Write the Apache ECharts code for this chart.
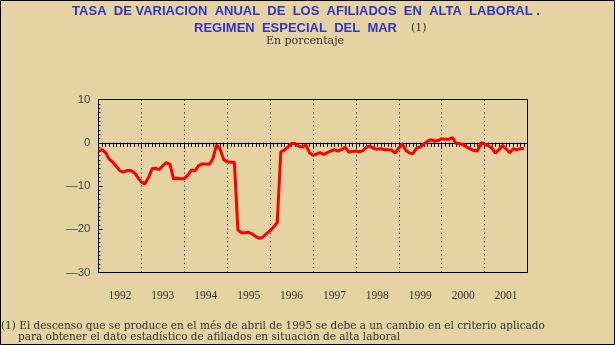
<!DOCTYPE html>
<html>
<head>
<meta charset="utf-8">
<script src="https://cdn.jsdelivr.net/npm/echarts@6/dist/echarts.min.js"></script>
<style>
html,body{margin:0;padding:0;background:#E6D3A3;}
#c{width:615px;height:345px;}
</style>
</head>
<body>
<div id="c"></div>
<script>
// Year labels (categories)
var years = ['1992','1993','1994','1995','1996','1997','1998','1999','2000','2001'];
// Monthly annual growth rate (%), Jan 1992 .. Dec 2001
var v1992 = [-2.0, -1.6, -2.3, -3.8, -4.5, -5.5, -6.5, -6.8, -6.4, -6.4, -6.9, -8.0];
var v1993 = [-9.1, -9.5, -8.0, -6.0, -5.9, -6.2, -5.3, -4.6, -5.0, -8.4, -8.2, -8.3];
var v1994 = [-8.3, -7.5, -6.3, -6.5, -5.3, -4.9, -4.9, -5.0, -3.7, -0.5, -1.4, -3.9];
var v1995 = [-4.4, -4.5, -4.5, -20.2, -20.8, -20.8, -20.7, -21.1, -21.7, -22.1, -21.8, -21.0];
var v1996 = [-20.3, -19.5, -18.4, -2.1, -1.7, -1.0, -0.2, -0.2, -0.8, -1.0, -0.5, -2.3];
var v1997 = [-2.9, -2.6, -2.3, -2.7, -2.3, -1.9, -1.6, -1.9, -1.6, -1.0, -2.2, -2.0];
var v1998 = [-1.9, -2.1, -1.8, -1.0, -0.8, -1.3, -1.5, -1.4, -1.6, -1.6, -1.7, -2.4];
var v1999 = [-1.2, -0.3, -1.8, -2.4, -2.5, -1.2, -1.0, -0.3, 0.3, 0.7, 0.4, 0.5];
var v2000 = [0.9, 0.8, 0.8, 1.2, -0.1, -0.2, -0.4, -1.0, -1.4, -1.8, -1.9, 0.0];
var v2001 = [-0.3, -0.7, -1.2, -2.4, -1.6, -0.6, -1.4, -2.3, -1.4, -1.6, -1.4, -1.3];
// Y tick values
var yTicks = [-30, -20, -10, 0, 10];

var titleLine1 = 'TASA  DE VARIACION  ANUAL  DE  LOS  AFILIADOS  EN  ALTA  LABORAL .';
var titleLine2 = 'REGIMEN  ESPECIAL  DEL  MAR';
var titleNote = '(1)';
var subtitle = 'En porcentaje';
var foot1 = '(1) El descenso que se produce en el més de abril de 1995 se debe a un cambio en el criterio aplicado';
var foot2 = 'para obtener el dato estadístico de afiliados en situación de alta laboral';

var all = [].concat(v1992, v1993, v1994, v1995, v1996, v1997, v1998, v1999, v2000, v2001);
var seriesData = all.map(function (v, i) { return [i, v]; });

var chart = echarts.init(document.getElementById('c'), null, {renderer: 'canvas'});
var serif = '"DejaVu Serif", "Liberation Serif", serif';
var serifNarrow = '"Liberation Serif", serif';
var sans = '"Liberation Sans", Arial, sans-serif';
var dotted = [1, 3.3];
var yMin = yTicks[0], yMax = yTicks[yTicks.length - 1];

chart.setOption({
  backgroundColor: '#E6D3A3',
  animation: false,
  grid: {left: 98.5, right: 87.5, top: 99.5, bottom: 72.5, show: true, borderColor: '#000', borderWidth: 1, backgroundColor: 'transparent'},
  xAxis: [{
    type: 'value', min: 0, max: 120, interval: 12,
    axisLine: {show: true, lineStyle: {color: '#000', width: 1}},
    axisTick: {show: true, length: 6, lineStyle: {color: '#000'}},
    minorTick: {show: true, splitNumber: 12, length: 4, lineStyle: {color: '#000'}},
    axisLabel: {show: false},
    splitLine: {show: true, lineStyle: {color: '#000', width: 1, type: dotted}}
  }, {
    type: 'category', data: years, position: 'bottom', offset: 0, boundaryGap: true,
    axisLine: {show: false}, axisTick: {show: false}, splitLine: {show: false},
    axisLabel: {margin: 17, fontFamily: serifNarrow, fontSize: 11.5, color: '#333'}
  }],
  yAxis: [{
    type: 'value', min: yMin, max: yMax, interval: 10,
    axisLine: {show: true, lineStyle: {color: '#000'}},
    axisTick: {show: true, inside: true, length: 4, lineStyle: {color: '#000'}},
    minorTick: {show: true, splitNumber: 10, length: 2, lineStyle: {color: '#000'}},
    splitLine: {show: false},
    axisLabel: {
      margin: 8, fontFamily: sans, fontSize: 11.5, color: '#444',
      formatter: function (v) { return v < 0 ? '\u2014' + Math.abs(v) : String(v); }
    }
  }, {
    // helper axis: only provides the dotted zero line
    type: 'value', min: yMin, max: yMax, interval: 30, position: 'left', offset: 0,
    axisLine: {show: false}, axisTick: {show: false}, axisLabel: {show: false},
    splitLine: {show: true, lineStyle: {color: '#000', width: 1, type: dotted}}
  }],
  series: [{
    type: 'line', xAxisIndex: 0, yAxisIndex: 0, data: seriesData, symbol: 'none',
    lineStyle: {color: '#FF0000', width: 3}, z: 5
  }],
  graphic: [
    {type: 'rect', shape: {x: 0.5, y: 0.5, width: 614, height: 344}, style: {fill: 'none', stroke: '#000', lineWidth: 1}, silent: true},
    {type: 'text', x: 306, y: 11, style: {text: titleLine1, font: 'bold 13px ' + sans, fill: '#3333C4', align: 'center', verticalAlign: 'middle'}},
    {type: 'text', x: 397, y: 28, style: {text: titleLine2, font: 'bold 13px ' + sans, fill: '#3333C4', align: 'right', verticalAlign: 'middle'}},
    {type: 'text', x: 411, y: 28, style: {text: titleNote, font: '11px ' + serif, fill: '#333', align: 'left', verticalAlign: 'middle'}},
    {type: 'text', x: 305, y: 41, style: {text: subtitle, font: '11px ' + serif, fill: '#333', align: 'center', verticalAlign: 'middle'}},
    {type: 'text', x: 1, y: 326, style: {text: foot1, font: '10.5px ' + serif, fill: '#333', align: 'left', verticalAlign: 'middle'}},
    {type: 'text', x: 18, y: 337, style: {text: foot2, font: '10.5px ' + serif, fill: '#333', align: 'left', verticalAlign: 'middle'}}
  ]
});
</script>
</body>
</html>
